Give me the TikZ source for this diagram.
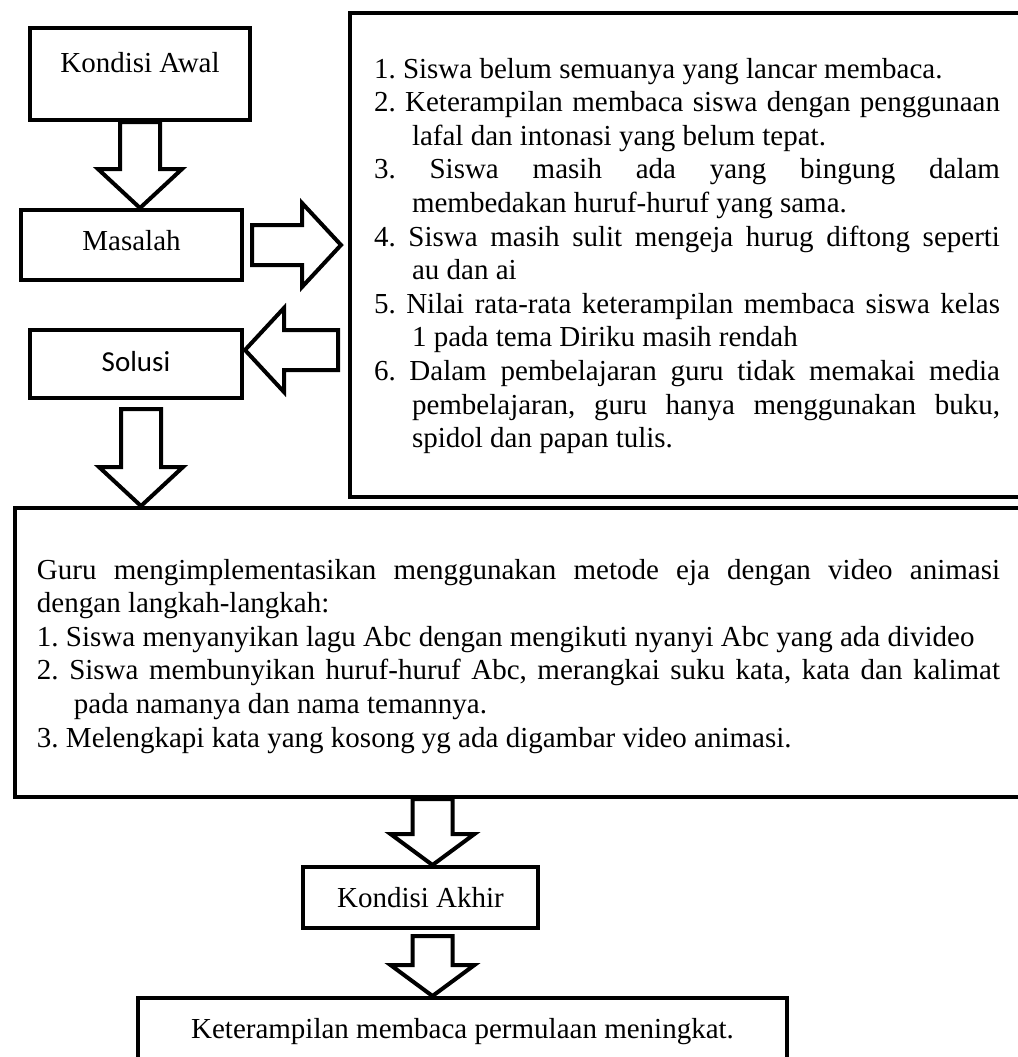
\documentclass[tikz,border=0pt]{standalone}
\usepackage{fontspec}
\setmainfont{Liberation Serif}
\newfontfamily\calibri{Carlito}
\usetikzlibrary{calc}
\hyphenpenalty=10000
\exhyphenpenalty=10000
\tolerance=10000
\hbadness=10000
\frenchspacing
\newcommand\gantung[1]{\hangindent=#1\hangafter=1\relax}
% hollow block arrow: [head length]{from}{to}
\newcommand\blockarrow[3][19.5pt]{%
  \path ($(#3)!#1!(#2)$) coordinate (hb);
  \draw[arrowline] ($(#2)!10pt!90:(#3)$) -- ($(hb)!10pt!90:(#3)$)
    -- ($(hb)!21pt!90:(#3)$) -- (#3) -- ($(hb)!21pt!-90:(#3)$)
    -- ($(hb)!10pt!-90:(#3)$) -- ($(#2)!10pt!-90:(#3)$) -- cycle;}
\tikzset{
  box/.style={draw, line width=2pt, inner ysep=0pt,
    font={\fontsize{14.5pt}{16.8pt}\selectfont\frenchspacing}},
  arrowline/.style={line width=2pt, fill=white, miter limit=4},
}
\begin{document}
\begin{tikzpicture}[x=0.5pt, y=-0.5pt]
  \path[use as bounding box, clip] (0,0) rectangle (1018,1057);
  \node[box, minimum width=110pt, text height=22pt, text depth=24pt, anchor=base] (awal) at (140,72) {Kondisi Awal};
  \node[box, minimum width=110.5pt, text height=20pt, text depth=15pt, anchor=base] (masalah) at (131.5,250) {Masalah};
  \node[box, minimum width=106pt, text height=20.5pt, text depth=13.5pt, anchor=base, font={\calibri\fontsize{14.5pt}{16.8pt}\selectfont}] (solusi) at (136,371) {Solusi};
  \node[box, text width=313pt, align=justify, inner xsep=12pt, text height=32.5pt, text depth=209.5pt, anchor=base west] (list) at (348,78) {%
    \gantung{19pt}1. Siswa belum semuanya yang lancar membaca.\par
    \gantung{19pt}2. Keterampilan membaca siswa dengan penggunaan\linebreak lafal dan intonasi yang belum tepat.\par
    \gantung{19pt}3. Siswa masih ada yang bingung dalam\linebreak membedakan huruf-huruf yang sama.\par
    \gantung{19pt}4. Siswa masih sulit mengeja hurug diftong seperti\linebreak au dan ai\par
    \gantung{19pt}5. Nilai rata-rata keterampilan membaca siswa kelas\linebreak 1 pada tema Diriku masih rendah\par
    \gantung{19pt}6. Dalam pembelajaran guru tidak memakai media\linebreak pembelajaran, guru hanya menggunakan buku,\linebreak spidol dan papan tulis.\par};
  \node[box, text width=481.5pt, align=justify, inner xsep=11pt, text height=35.5pt, text depth=109pt, anchor=base west] (guru) at (13,579) {%
    Guru mengimplementasikan menggunakan metode eja dengan video animasi\linebreak dengan langkah-langkah:\par
    1. Siswa menyanyikan lagu Abc dengan mengikuti nyanyi Abc yang ada divideo\par
    \gantung{18.5pt}2. Siswa membunyikan huruf-huruf Abc, merangkai suku kata, kata dan kalimat\linebreak pada namanya dan nama temannya.\par
    3. Melengkapi kata yang kosong yg ada digambar video animasi.\par};
  \node[box, minimum width=117.5pt, text height=20pt, text depth=10.5pt, anchor=base] (akhir) at (420.5,907) {Kondisi Akhir};
  \node[box, minimum width=324.5pt, text height=20pt, text depth=21pt, anchor=base] (final) at (462.5,1038) {Keterampilan membaca permulaan meningkat.};

  \coordinate (a1s) at (awal.south);
  \coordinate (a1e) at (awal.south |- masalah.north);
  \coordinate (a2s) at ($(masalah.east)+(8,0)$);
  \coordinate (a2e) at ($(masalah.east -| list.west)+(-7,0)$);
  \coordinate (a3s) at ($(solusi.east -| list.west)+(-10,-14)$);
  \coordinate (a3e) at ($(solusi.east)+(1,-14)$);
  \coordinate (a4s) at ($(solusi.south)+(5,9)$);
  \coordinate (a4e) at (a4s |- guru.north);
  \coordinate (a5s) at ($(akhir.north |- guru.south)+(12,0)$);
  \coordinate (a5e) at (a5s |- akhir.north);
  \coordinate (a6s) at ($(akhir.south)+(12,6)$);
  \coordinate (a6e) at (a6s |- final.north);
  \blockarrow{a1s}{a1e}
  \blockarrow{a2s}{a2e}
  \blockarrow{a3s}{a3e}
  \blockarrow{a4s}{a4e}
  \blockarrow[15.5pt]{a5s}{a5e}
  \blockarrow[15.5pt]{a6s}{a6e}
\end{tikzpicture}
\end{document}
